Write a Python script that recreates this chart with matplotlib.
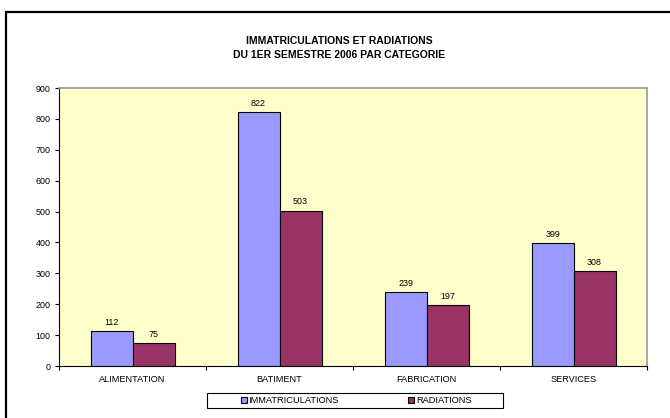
import matplotlib
matplotlib.use("Agg")
import matplotlib.pyplot as plt
from matplotlib.patches import Rectangle
import numpy as np

categories = ["ALIMENTATION", "BATIMENT", "FABRICATION", "SERVICES"]
immatriculations = [112, 822, 239, 399]
radiations = [75, 503, 197, 308]
yticks = [0, 100, 200, 300, 400, 500, 600, 700, 800, 900]
title = "IMMATRICULATIONS ET RADIATIONS\nDU 1ER SEMESTRE 2006 PAR CATEGORIE"

plt.rcParams['font.family'] = ['Liberation Sans', 'DejaVu Sans']

W, H = 670, 418
fig = plt.figure(figsize=(W / 100, H / 100), dpi=100)
fig.patch.set_facecolor("white")

# outer chart frame (left and top visible)
fig.patches.append(Rectangle((6 / W, -0.1), 1.2, 1.1 - 12 / H, transform=fig.transFigure,
                             fill=False, edgecolor="black", linewidth=1.6, zorder=0))

ax_l, ax_r, ax_t, ax_b = 59, 647, 88, 366
ax = fig.add_axes([ax_l / W, 1 - ax_b / H, (ax_r - ax_l) / W, (ax_b - ax_t) / H])
ax.set_facecolor("#FFFFCC")

x = np.arange(len(categories))
bw = 1 / 3.5
b1 = ax.bar(x - bw / 2, immatriculations, bw, color="#9999FF", edgecolor="black", linewidth=0.8,
            label="IMMATRICULATIONS", zorder=3)
b2 = ax.bar(x + bw / 2, radiations, bw, color="#993366", edgecolor="black", linewidth=0.8,
            label="RADIATIONS", zorder=3)
for bars, vals in ((b1, immatriculations), (b2, radiations)):
    for r, v in zip(bars, vals):
        ax.annotate(str(v), (r.get_x() + r.get_width() / 2, v), xytext=(0, 3),
                    textcoords="offset points", ha="center", va="bottom", fontsize=6.4)

ax.set_xlim(-0.5, len(categories) - 0.5)
ax.set_ylim(0, 900)
ax.set_yticks(yticks)
ax.set_yticklabels([str(t) for t in yticks], fontsize=6.4)
ax.set_xticks(x)
ax.set_xticklabels(categories, fontsize=6.6)
ax.tick_params(axis="x", which="major", length=0, pad=6.5)
ax.set_xticks(np.arange(len(categories) + 1) - 0.5, minor=True)
ax.tick_params(axis="x", which="minor", length=3, width=0.8, direction="out")
ax.tick_params(axis="y", length=3, width=0.8, direction="out", pad=3)

for s in ("left", "bottom"):
    ax.spines[s].set_color("black")
    ax.spines[s].set_linewidth(0.8)
for s in ("top", "right"):
    ax.spines[s].set_color("#999999")
    ax.spines[s].set_linewidth(1.2)

fig.text(0.5 + 4 / W, 1 - 48 / H, title, ha="center", va="center", fontsize=7.5,
         fontweight="bold", linespacing=1.45)

# legend box
fig.patches.append(Rectangle((207 / W, 1 - 408 / H), (503 - 207) / W, 15 / H,
                             transform=fig.transFigure, fill=True, facecolor="white",
                             edgecolor="black", linewidth=0.8, zorder=1))
leg = fig.legend(handles=[b1, b2], labels=["IMMATRICULATIONS", "RADIATIONS"], loc="center",
                 bbox_to_anchor=(356 / W, 1 - 400.5 / H), ncol=2, fontsize=6.7, frameon=False,
                 handlelength=0.65, handleheight=0.65, handletextpad=0.15, columnspacing=7.5,
                 borderpad=0.0)
leg.set_zorder(2)

fig.savefig("out.png", dpi=100, facecolor="white")
